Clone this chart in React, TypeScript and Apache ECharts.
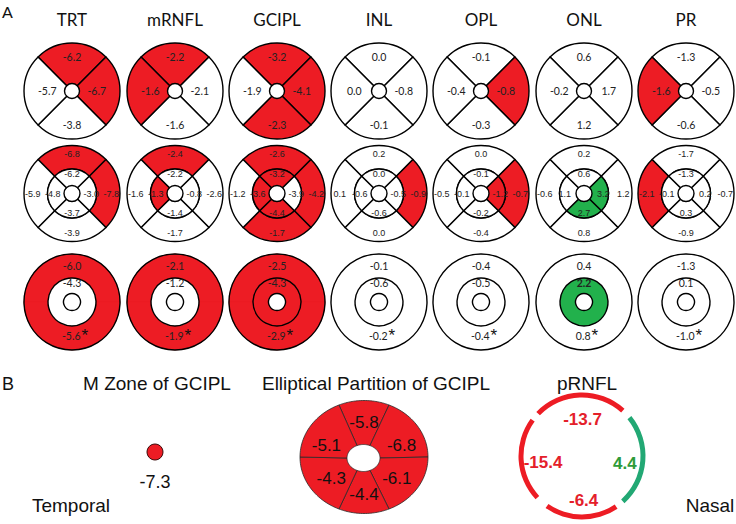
import React, { useEffect, useRef } from 'react';
import * as echarts from 'echarts';

// ---------- DATA ----------
const layers = ['TRT', 'mRNFL', 'GCIPL', 'INL', 'OPL', 'ONL', 'PR'];

// significance code: 0 = none (white), 1 = decrease (red), 2 = increase (green)
// Row 1 – quadrants [top, right, bottom, left]
const quadValues = [
  [-6.2, -6.7, -3.8, -5.7],
  [-2.2, -2.1, -1.6, -1.6],
  [-3.2, -4.1, -2.3, -1.9],
  [0.0, -0.8, -0.1, 0.0],
  [-0.1, -0.8, -0.3, -0.4],
  [0.6, 1.7, 1.2, -0.2],
  [-1.3, -0.5, -0.6, -1.6],
];
const quadSig = [
  [1, 1, 0, 0],
  [1, 0, 0, 1],
  [1, 1, 1, 0],
  [0, 0, 0, 0],
  [0, 1, 0, 0],
  [0, 0, 0, 0],
  [0, 0, 0, 1],
];

// Row 2 – ETDRS outer ring [top, right, bottom, left]
const outerValues = [
  [-6.8, -7.8, -3.9, -5.9],
  [-2.4, -2.6, -1.7, -1.6],
  [-2.6, -4.2, -1.7, -1.2],
  [0.2, -0.9, 0.0, 0.1],
  [0.0, -0.7, -0.4, -0.5],
  [0.2, 1.2, 0.8, -0.6],
  [-1.7, -0.7, -0.9, -2.1],
];
const outerSig = [
  [1, 1, 0, 0],
  [1, 0, 0, 0],
  [1, 1, 1, 0],
  [0, 1, 0, 0],
  [0, 1, 0, 0],
  [0, 0, 0, 0],
  [0, 0, 0, 1],
];
// Row 2 – ETDRS inner ring [top, right, bottom, left]
const innerValues = [
  [-6.2, -3.0, -3.7, -4.8],
  [-2.2, -0.8, -1.4, -1.3],
  [-3.2, -3.9, -4.4, -3.6],
  [0.0, -0.5, -0.6, -0.6],
  [-0.1, -1.2, -0.2, -0.1],
  [0.6, 3.2, 2.7, 1.1],
  [-1.3, 0.2, 0.3, -0.1],
];
const innerSig = [
  [0, 0, 0, 0],
  [0, 0, 0, 1],
  [1, 0, 1, 1],
  [0, 0, 0, 0],
  [0, 1, 0, 0],
  [0, 2, 2, 0],
  [0, 0, 0, 0],
];

// Row 3 – rings
const ringOuter = [-6.0, -2.1, -2.5, -0.1, -0.4, 0.4, -1.3];
const ringInner = [-4.3, -1.2, -4.3, -0.6, -0.5, 2.2, 0.1];
const ringTotal = [-5.6, -1.9, -2.9, -0.2, -0.4, 0.8, -1.0];
const ringOuterSig = [1, 1, 1, 0, 0, 0, 0];
const ringInnerSig = [0, 0, 1, 0, 0, 2, 0];

// Part B
const mZoneValue = -7.3;
// elliptical sectors: top, upper-nasal, lower-nasal, bottom, lower-temporal, upper-temporal
const ellipseValues = [-5.8, -6.8, -6.1, -4.4, -4.3, -5.1];
// pRNFL sectors clockwise from top: superior, nasal, inferior, temporal
const prnflNames = ['Superior', 'Nasal', 'Inferior', 'Temporal'];
const prnflValues = [-13.7, 4.4, -6.4, -15.4];
const prnflSig = [1, 2, 1, 1];
const prnflArcSpans = [88, 87, 69, 79];
const prnflGaps = [9, 8, 12, 8];

// ---------- STYLE / LAYOUT ----------
const RED = '#ED1C24';
const GREEN = '#22B14C';
const TEAL = '#22A874';
const colX = [72, 175, 277, 379, 481, 584, 686];
const rowY = [91, 193.5, 302];
const R = 48;
const fillOf = (s: number) => (s === 1 ? RED : s === 2 ? GREEN : '#ffffff');
const fmt = (v: number) => v.toFixed(1);
const CAL = 'Lato, "Open Sans", sans-serif';
const ARIAL = '"Liberation Sans", Arial, sans-serif';

function quadPie(center: number[], radius: number[], values: number[], sig: number[], fontSize: number, fontFamily: string, layout?: any) {
  return {
    type: 'pie',
    center,
    radius,
    startAngle: 135,
    clockwise: true,
    silent: true,
    avoidLabelOverlap: false,
    label: {
      show: true,
      position: 'inside',
      formatter: (p: any) => p.data.text,
      color: '#222',
      fontSize,
      fontFamily,
    },
    labelLine: { show: false },
    labelLayout: layout,
    itemStyle: { borderColor: '#000', borderWidth: 1.4 },
    data: values.map((v, i) => ({ value: 1, name: String(i), text: fmt(v), itemStyle: { color: fillOf(sig[i]) } })),
  };
}

function buildSeries() {
  const series: any[] = [];
  layers.forEach((_, i) => {
    // Row 1
    series.push(
      quadPie([colX[i], rowY[0]], [7.5, R], quadValues[i], quadSig[i], 10.5, CAL, (p: any) => {
        const k = p.dataIndex;
        return k === 0 ? { dy: -3 } : k === 2 ? { dy: 3 } : k === 1 ? { dx: -6 } : { dx: 6 };
      })
    );
    // Row 2
    series.push(quadPie([colX[i], rowY[1]], [24.5, R], outerValues[i], outerSig[i], 9, ARIAL));
    series.push(quadPie([colX[i], rowY[1]], [8, 24.5], innerValues[i], innerSig[i], 9, ARIAL));
    // Row 3 outer ring (two halves for top/bottom labels)
    const oc = fillOf(ringOuterSig[i]);
    series.push({
      type: 'pie',
      center: [colX[i], rowY[2]],
      radius: [24, R],
      startAngle: 180,
      clockwise: true,
      silent: true,
      avoidLabelOverlap: false,
      label: {
        show: true,
        position: 'inside',
        formatter: (p: any) => p.data.text,
        color: '#222',
        fontSize: 10.5,
        fontFamily: CAL,
        rich: {
          v: { fontSize: 10.5, fontFamily: CAL, color: '#222' },
          s: { fontSize: 17, fontFamily: ARIAL, color: '#111', padding: [0, 0, 2, 1] },
        },
      },
      labelLine: { show: false },
      labelLayout: (p: any) => (p.dataIndex === 0 ? { dy: 3 } : { dy: -5, dx: 3 }),
      data: [
        { value: 1, text: fmt(ringOuter[i]), itemStyle: { color: oc, borderColor: oc, borderWidth: 0.6 } },
        { value: 1, text: `{v|${fmt(ringTotal[i])}}{s|*}`, itemStyle: { color: oc, borderColor: oc, borderWidth: 0.6 } },
      ],
    });
    // outline of outer circle
    series.push({
      type: 'pie',
      center: [colX[i], rowY[2]],
      radius: [0, R],
      silent: true,
      label: { show: false },
      labelLine: { show: false },
      data: [{ value: 1, itemStyle: { color: 'rgba(0,0,0,0)', borderColor: '#000', borderWidth: 1.4 } }],
    });
    // inner ring
    series.push({
      type: 'pie',
      center: [colX[i], rowY[2]],
      radius: [8.5, 24],
      startAngle: -90,
      clockwise: true,
      silent: true,
      avoidLabelOverlap: false,
      label: {
        show: true,
        position: 'inside',
        formatter: (p: any) => p.data.text,
        color: '#222',
        fontSize: 10.5,
        fontFamily: CAL,
        fontWeight: ringInnerSig[i] === 2 ? 'bold' : 'normal',
      },
      labelLine: { show: false },
      data: [{ value: 1, text: fmt(ringInner[i]), itemStyle: { color: fillOf(ringInnerSig[i]), borderColor: '#000', borderWidth: 1.4 } }],
    });
  });

  // M zone dot
  series.push({
    type: 'pie',
    center: [155, 452],
    radius: [0, 8],
    silent: true,
    label: {
      show: true,
      position: 'center',
      formatter: fmt(mZoneValue),
      fontSize: 18,
      fontFamily: ARIAL,
      color: '#111',
    },
    labelLine: { show: false },
    labelLayout: { dy: 30 },
    data: [{ value: 1, itemStyle: { color: RED, borderColor: '#3a0a0a', borderWidth: 1 } }],
  });

  // Elliptical partition
  const E = { cx: 364, cy: 457, RX: 64, RY: 56.5, icx: 363.5, icy: 458, rx: 16.5, ry: 13.5 };
  const arcs = [
    [67, 113],
    [0, 67],
    [-67, 0],
    [-113, -67],
    [-180, -113],
    [113, 180],
  ];
  const labelAng = [90, 20, -35, -90, -145, 160];
  series.push({
    type: 'custom',
    coordinateSystem: 'none',
    silent: true,
    data: ellipseValues.map((v, i) => [i, v]),
    renderItem: (params: any, api: any) => {
      const i = params.dataIndex;
      const v = api.value(1) as number;
      const [a0, a1] = arcs[i];
      const pts: number[][] = [];
      const n = 30;
      for (let k = 0; k <= n; k++) {
        const a = ((a0 + ((a1 - a0) * k) / n) * Math.PI) / 180;
        pts.push([E.cx + E.RX * Math.cos(a), E.cy - E.RY * Math.sin(a)]);
      }
      for (let k = n; k >= 0; k--) {
        const a = ((a0 + ((a1 - a0) * k) / n) * Math.PI) / 180;
        pts.push([E.icx + E.rx * Math.cos(a), E.icy - E.ry * Math.sin(a)]);
      }
      const la = (labelAng[i] * Math.PI) / 180;
      const tx = E.cx + 40 * Math.cos(la);
      const ty = 458 - 36 * Math.sin(la);
      return {
        type: 'group',
        children: [
          { type: 'polygon', shape: { points: pts }, style: { fill: RED, stroke: '#2a2a2a', lineWidth: 0.8 } },
          {
            type: 'text',
            x: tx,
            y: ty,
            style: {
              text: fmt(v),
              fill: '#111',
              fontSize: 17,
              fontFamily: ARIAL,
              align: 'center',
              verticalAlign: 'middle',
              textAlign: 'center',
              textVerticalAlign: 'middle',
            },
          },
        ],
      };
    },
  });

  // pRNFL arcs
  const arcData: any[] = [];
  const lblData: any[] = [];
  prnflValues.forEach((v, i) => {
    const c = prnflSig[i] === 2 ? TEAL : RED;
    arcData.push({ value: prnflArcSpans[i], name: prnflNames[i], itemStyle: { color: c } });
    arcData.push({ value: prnflGaps[i], name: 'gap' + i, itemStyle: { color: 'rgba(0,0,0,0)' } });
    lblData.push({
      value: prnflArcSpans[i],
      name: prnflNames[i],
      text: fmt(v),
      itemStyle: { color: 'rgba(0,0,0,0)' },
      label: { show: true, color: prnflSig[i] === 2 ? '#2E9B3A' : '#E4202A' },
    });
    lblData.push({ value: prnflGaps[i], name: 'gap' + i, itemStyle: { color: 'rgba(0,0,0,0)' }, label: { show: false } });
  });
  series.push({
    type: 'pie',
    center: [582, 456],
    radius: [58.5, 63.5],
    startAngle: 136,
    clockwise: true,
    silent: true,
    label: { show: false },
    labelLine: { show: false },
    data: arcData,
  });
  series.push({
    type: 'pie',
    center: [584, 460],
    radius: [0, 76],
    startAngle: 136,
    clockwise: true,
    silent: true,
    avoidLabelOverlap: false,
    label: {
      show: true,
      position: 'inside',
      formatter: (p: any) => p.data.text,
      fontSize: 17,
      fontWeight: 'bold',
      fontFamily: ARIAL,
    },
    labelLine: { show: false },
    data: lblData,
  });
  return series;
}

function txt(text: string, x: number, y: number, fontSize: number, fontFamily: string, align = 'center') {
  return {
    type: 'text',
    x,
    y,
    silent: true,
    style: {
      text,
      fill: '#111',
      fontSize,
      fontFamily,
      align,
      verticalAlign: 'middle',
      textAlign: align,
      textVerticalAlign: 'middle',
    },
  };
}

export default function App() {
  const ref = useRef<HTMLDivElement>(null);
  useEffect(() => {
    const chart = echarts.init(ref.current!, null, { renderer: 'svg' });
    const graphics: any[] = [
      txt('A', 2, 11, 16, CAL, 'left'),
      ...layers.map((l, i) => txt(l, colX[i], 19, 17, CAL)),
      txt('B', 2, 384, 18, ARIAL, 'left'),
      txt('M Zone of GCIPL', 157, 383, 19, ARIAL),
      txt('Elliptical Partition of GCIPL', 376, 383, 19, ARIAL),
      txt('pRNFL', 587, 383, 19, ARIAL),
      txt('Temporal', 71, 505, 19, ARIAL),
      txt('Nasal', 710, 505, 19, ARIAL),
    ];
    chart.setOption({
      animation: false,
      backgroundColor: '#ffffff',
      graphic: { elements: graphics },
      series: buildSeries(),
    });
    return () => chart.dispose();
  }, []);
  return (
    <div
      ref={ref}
      style={{ position: 'fixed', left: 0, top: 0, width: 736, height: 524, background: '#fff' }}
    />
  );
}
